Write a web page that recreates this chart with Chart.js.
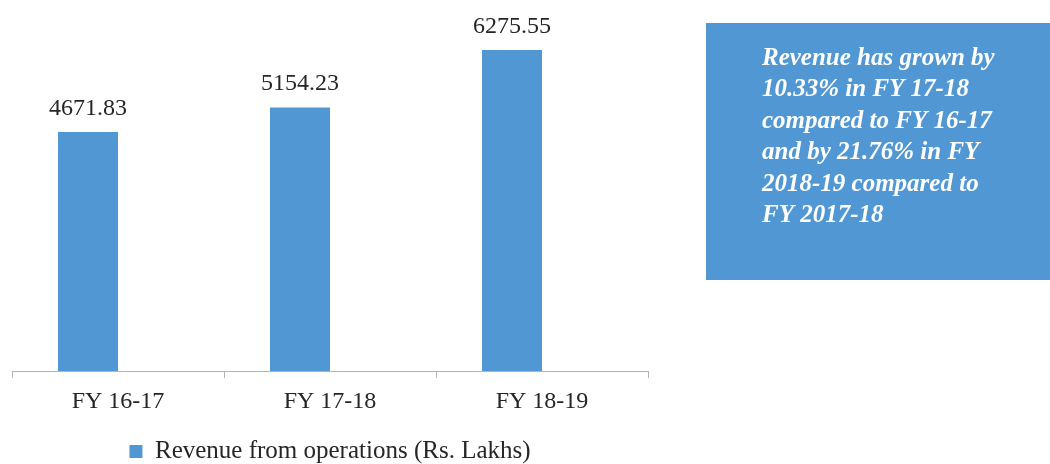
<!DOCTYPE html>
<html>
<head>
<meta charset="utf-8">
<script src="https://cdn.jsdelivr.net/npm/chart.js@4.4.1/dist/chart.umd.min.js"></script>
<style>
  html, body { margin: 0; padding: 0; background: #ffffff; }
  #wrap { width: 1050px; height: 464px; position: relative; }
</style>
</head>
<body>
<div id="wrap"><canvas id="c" width="1050" height="464"></canvas></div>
<script>
// ---- data ----
const categories = ["FY 16-17", "FY 17-18", "FY 18-19"];
const revenue = [4671.83, 5154.23, 6275.55];
const emptySeries = [null, null, null];
const seriesName = "Revenue from operations (Rs. Lakhs)";
const noteLines = [
  "Revenue has grown by",
  "10.33% in FY 17-18",
  "compared to FY 16-17",
  "and by 21.76% in FY",
  "2018-19 compared to",
  "FY 2017-18"
];

const BLUE = "#5197d3";
const TEXT = "#262626";
const SERIF = "'Liberation Serif', 'Times New Roman', serif";

const valueLabels = {
  id: "valueLabels",
  afterDatasetsDraw(chart) {
    const ctx = chart.ctx;
    const meta = chart.getDatasetMeta(0);
    ctx.save();
    ctx.font = "24px " + SERIF;
    ctx.fillStyle = TEXT;
    ctx.textAlign = "center";
    ctx.textBaseline = "alphabetic";
    meta.data.forEach((bar, i) => {
      const v = chart.data.datasets[0].data[i];
      if (v == null) return;
      ctx.fillText(v.toFixed(2), bar.x, bar.y - 17);
    });
    ctx.restore();
  }
};

const noteBox = {
  id: "noteBox",
  afterDraw(chart) {
    const ctx = chart.ctx;
    ctx.save();
    ctx.fillStyle = BLUE;
    ctx.fillRect(706, 23, 344, 257);
    ctx.fillStyle = "#ffffff";
    ctx.font = "italic bold 25px " + SERIF;
    ctx.textAlign = "left";
    ctx.textBaseline = "alphabetic";
    noteLines.forEach((line, i) => {
      ctx.fillText(line, 762, 65 + i * 31.4);
    });
    ctx.restore();
  }
};

new Chart(document.getElementById("c"), {
  type: "bar",
  data: {
    labels: categories,
    datasets: [
      { label: seriesName, data: revenue, backgroundColor: BLUE, borderWidth: 0 },
      { label: "", data: emptySeries, backgroundColor: BLUE, borderWidth: 0 }
    ]
  },
  options: {
    responsive: false,
    animation: false,
    devicePixelRatio: 1,
    categoryPercentage: 0.566,
    barPercentage: 1.0,
    layout: { padding: { left: 12, right: 402, top: 13, bottom: -10 } },
    plugins: {
      tooltip: { enabled: false },
      legend: {
        position: "bottom",
        labels: {
          filter: (item) => item.datasetIndex === 0,
          boxWidth: 13,
          boxHeight: 13,
          color: TEXT,
          font: { family: SERIF, size: 25, lineHeight: 1 },
          padding: 1
        }
      }
    },
    scales: {
      y: { display: false, min: 0, max: 7000 },
      x: {
        afterFit: (scale) => { scale.height = 67; },
        border: { display: true, color: "#b3b3b3", width: 1 },
        grid: { display: true, drawOnChartArea: false, drawTicks: true, tickLength: 7, color: "#b3b3b3", offset: true },
        ticks: { color: TEXT, font: { family: SERIF, size: 24 }, padding: 9 }
      }
    }
  },
  plugins: [valueLabels, noteBox]
});
</script>
</body>
</html>
